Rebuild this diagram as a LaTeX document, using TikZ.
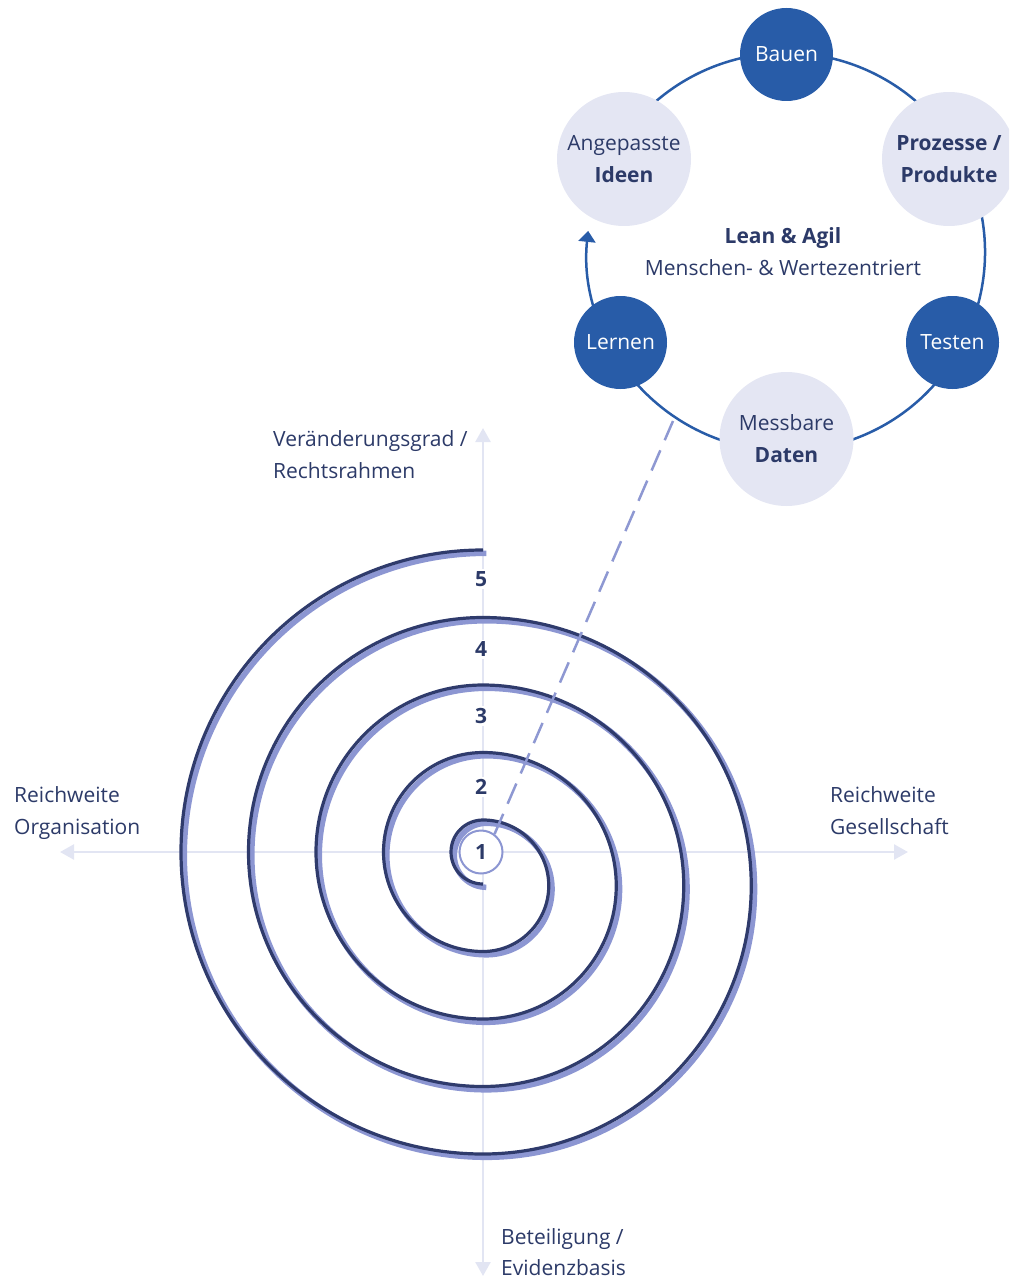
\documentclass[tikz,border=0pt]{standalone}
\usepackage{fontspec}
\setmainfont{Open Sans}
\usetikzlibrary{arrows.meta}
\definecolor{navy}{HTML}{2C3A68}
\definecolor{spdark}{HTML}{2F3B6C}
\definecolor{splight}{HTML}{8C96D2}
\definecolor{axisc}{HTML}{E2E5F3}
\definecolor{cblue}{HTML}{285CA8}
\definecolor{clight}{HTML}{E4E6F3}
\definecolor{dashc}{HTML}{8E98D2}
\begin{document}
\begin{tikzpicture}[x=1pt,y=1pt,
  lbl/.style={font=\fontsize{21}{24}\selectfont, text=navy, inner sep=0pt, anchor=base west},
  num/.style={font=\fontsize{21}{24}\selectfont\bfseries, text=navy, fill=white, inner sep=2pt},
  axisline/.style={draw=axisc, line width=2.5pt, {Triangle[width=15pt,length=14pt]}-{Triangle[width=15pt,length=14pt]}},
  darknode/.style={circle, fill=cblue, minimum size=93pt, inner sep=0pt, text=white, font=\fontsize{21}{32}\selectfont},
  lightnode/.style={circle, fill=clight, minimum size=134pt, inner sep=0pt, text=navy, align=center, font=\fontsize{21}{32}\selectfont},
  ring/.style={draw=cblue, line width=2.5pt},
  spshadow/.style={draw=splight, line width=5.5pt},
  spline/.style={draw=spdark, line width=3.2pt},
  dashlink/.style={draw=dashc, line width=2.5pt, dash pattern=on 22pt off 11pt},
  centertxt/.style={font=\fontsize{21}{24}\selectfont, text=navy, inner sep=0pt, anchor=base},
]
\useasboundingbox (0,0) rectangle (1009,-1279);
\clip (0,0) rectangle (1009,-1279);

% axes
\coordinate (axL) at (60,-852);
\coordinate (axR) at (908,-852);
\coordinate (axT) at (483,-428);
\coordinate (axB) at (483,-1276);
\draw[axisline] (axL) -- (axR);
\draw[axisline] (axT) -- (axB);

% spiral (shadow + line)
\draw[spshadow, shift={(3.3,-3.3)}] (483,-884)
  arc[start angle=270,end angle=90,radius=32]
  arc[start angle=90,end angle=-90,radius=65.75]
  arc[start angle=270,end angle=90,radius=99.5]
  arc[start angle=90,end angle=-90,radius=133.25]
  arc[start angle=270,end angle=90,radius=167]
  arc[start angle=90,end angle=-90,radius=200.75]
  arc[start angle=270,end angle=90,radius=234.5]
  arc[start angle=90,end angle=-90,radius=268.25]
  arc[start angle=270,end angle=90,radius=302];
\draw[spline] (483,-884)
  arc[start angle=270,end angle=90,radius=32]
  arc[start angle=90,end angle=-90,radius=65.75]
  arc[start angle=270,end angle=90,radius=99.5]
  arc[start angle=90,end angle=-90,radius=133.25]
  arc[start angle=270,end angle=90,radius=167]
  arc[start angle=90,end angle=-90,radius=200.75]
  arc[start angle=270,end angle=90,radius=234.5]
  arc[start angle=90,end angle=-90,radius=268.25]
  arc[start angle=270,end angle=90,radius=302];

% level numbers
\node[num] (n5) at (481,-579) {5};
\node[num] (n4) at (481,-649) {4};
\node[num] (n3) at (481,-716) {3};
\node[num] (n2) at (481,-787) {2};
\node[circle, draw=splight, line width=2pt, fill=white, minimum size=43pt, inner sep=0pt,
      font=\fontsize{21}{24}\selectfont\bfseries, text=navy] (one) at (481,-852) {1};

% dashed link
\coordinate (dashend) at (673,-421);
\draw[dashlink] (one.53) -- (dashend);

% cycle ring
\coordinate (rc) at (786,-252);
\draw[ring, -{Triangle[width=17pt,length=11pt]}] ([shift={(150:199)}]rc)
  arc[start angle=150, end angle=-186.1, radius=199];

\node[darknode] (bauen) at (786.5,-54.5) {Bauen};
\node[lightnode] (ideen) at (624,-159) {Angepasste\\\textbf{Ideen}};
\node[lightnode, font=\fontsize{21}{32}\selectfont\bfseries] (prozesse) at (949,-159) {Prozesse /\\Produkte};
\node[darknode] (testen) at (952.5,-342.5) {Testen};
\node[lightnode] (daten) at (786.5,-439) {Messbare\\\textbf{Daten}};
\node[darknode] (lernen) at (620.5,-342.5) {Lernen};

\node[centertxt, font=\fontsize{21}{24}\selectfont\bfseries] (lean) at (783,-243) {Lean \& Agil};
\node[centertxt] (menschen) at (783,-275) {Menschen- \& Wertezentriert};

% axis labels
\node[lbl] (vA) at (273,-446) {Veränderungsgrad /};
\node[lbl] (vB) at (273,-478) {Rechtsrahmen};
\node[lbl] (oA) at (14,-802) {Reichweite};
\node[lbl] (oB) at (14,-834) {Organisation};
\node[lbl] (gA) at (830,-802) {Reichweite};
\node[lbl] (gB) at (830,-834) {Gesellschaft};
\node[lbl] (bA) at (501,-1244) {Beteiligung /};
\node[lbl] (bB) at (501,-1275) {Evidenzbasis};
\end{tikzpicture}
\end{document}
